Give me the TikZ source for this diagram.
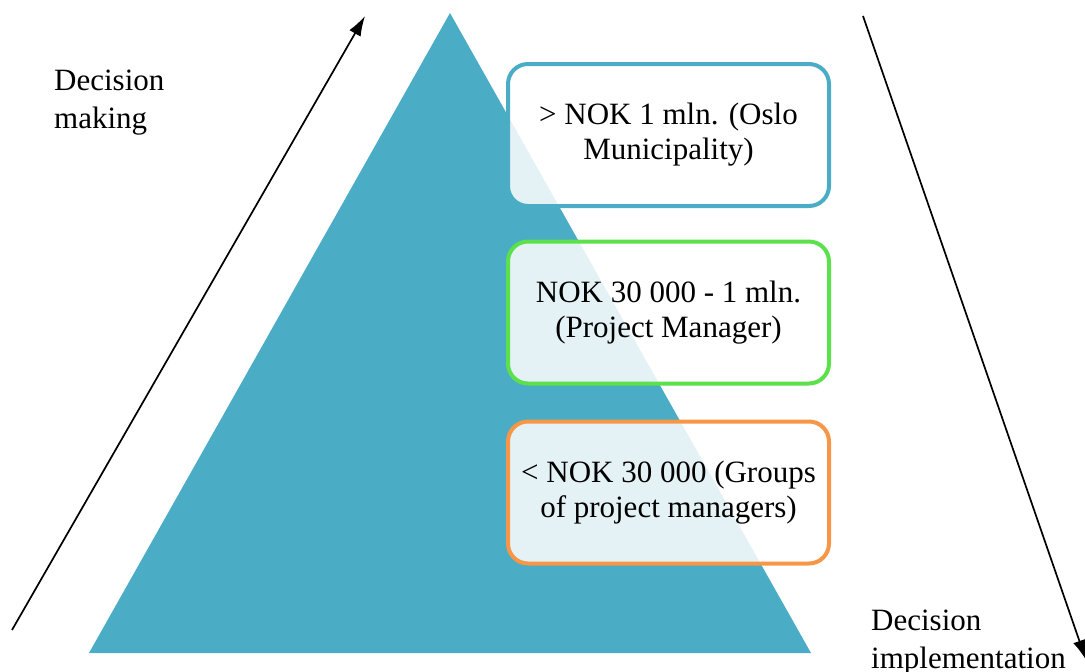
\documentclass[tikz,border=0pt]{standalone}
\usepackage{fontspec}
\setmainfont{Liberation Serif}
\usetikzlibrary{arrows.meta}
\definecolor{tri}{HTML}{4BACC6}
\definecolor{bblue}{HTML}{4BACC6}
\definecolor{bgreen}{HTML}{5CE14C}
\definecolor{borange}{HTML}{F79646}
\tikzset{
  costbox/.style={draw, line width=4pt, rounded corners=20pt, fill=white, fill opacity=0.85, text opacity=1,
    minimum width=321pt, minimum height=142pt, align=center, font=\fontsize{31}{35}\selectfont},
  sidelabel/.style={align=left, anchor=north west, font=\fontsize{31}{38}\selectfont, inner sep=0pt},
  flowarrow/.style={line width=1.7pt, -{Latex[length=20pt,width=13pt]}}
}
\begin{document}
\begin{tikzpicture}[x=1pt,y=-1pt]
\useasboundingbox (0,0) rectangle (1085,672);
\fill[tri] (450,13) -- (811,653) -- (89,653) -- cycle;
\node[costbox, draw=bblue] (b1) at (668.5,135) {> NOK 1 mln. (Oslo\\Municipality)};
\node[costbox, draw=bgreen] (b2) at (668.5,312.5) {NOK 30 000 - 1 mln.\\(Project Manager)};
\node[costbox, draw=borange] (b3) at (668.5,492.5) {< NOK 30 000 (Groups\\of project managers)};
\coordinate (l1) at (12,630);
\coordinate (l2) at (365,16);
\coordinate (r1) at (863,16);
\coordinate (r2) at (1086,660);
\draw[flowarrow] (l1) -- (l2);
\draw[flowarrow] (r1) -- (r2);
\node[sidelabel] (dm) at (54,70) {Decision\\making};
\node[sidelabel] (di) at (871,610) {Decision\\implementation};
\end{tikzpicture}
\end{document}
